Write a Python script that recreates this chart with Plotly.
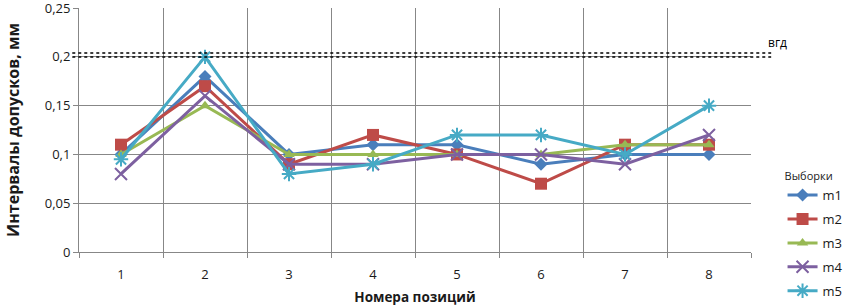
import plotly.graph_objects as go

positions = [1, 2, 3, 4, 5, 6, 7, 8]
m1 = [0.10, 0.18, 0.10, 0.11, 0.11, 0.09, 0.10, 0.10]
m2 = [0.11, 0.17, 0.09, 0.12, 0.10, 0.07, 0.11, 0.11]
m3 = [0.10, 0.15, 0.10, 0.10, 0.10, 0.10, 0.11, 0.11]
m4 = [0.08, 0.16, 0.09, 0.09, 0.10, 0.10, 0.09, 0.12]
m5 = [0.095, 0.20, 0.08, 0.09, 0.12, 0.12, 0.10, 0.15]
series_names = ["m1", "m2", "m3", "m4", "m5"]
vgd = 0.2
vgd_label = "вгд"

series = [m1, m2, m3, m4, m5]
colors = ["#4A7EBB", "#BE4B48", "#98B954", "#7D60A0", "#46AAC5"]
symbols = ["diamond", "square", "triangle-up", "x-thin", "asterisk-open"]
sizes = [10, 12, 10, 12, 12]

fig = go.Figure()
for i, (name, vals) in enumerate(zip(series_names, series)):
    fig.add_trace(go.Scatter(
        x=positions, y=vals, name=name, mode="lines+markers",
        legendgroup=name,
        line=dict(color=colors[i], width=3),
        marker=dict(symbol=symbols[i], size=sizes[i], color=colors[i],
                    line=dict(color=colors[i], width=2 if i >= 3 else 0)),
    ))

fig.add_shape(type="line", xref="paper", yref="y", x0=-0.01, x1=1.03, y0=vgd, y1=vgd,
              line=dict(color="black", width=1.5, dash="dot"))
fig.add_shape(type="line", xref="paper", yref="y", x0=-0.01, x1=1.03, y0=vgd + 0.004, y1=vgd + 0.004,
              line=dict(color="black", width=1.5, dash="dot"))
fig.add_annotation(x=1.022, xref="paper", y=vgd + 0.004, yref="y", text=vgd_label,
                   showarrow=False, xanchor="left", yanchor="bottom",
                   font=dict(size=12, color="black"))

fig.update_layout(
    width=846, height=306,
    margin=dict(l=79, r=95, t=8, b=54, autoexpand=False),
    paper_bgcolor="white", plot_bgcolor="white",
    separators=", ",
    font=dict(family="Open Sans, DejaVu Sans, sans-serif", color="#1a1a1a"),
    showlegend=True,
    legend=dict(title=dict(text="Выборки", font=dict(size=11)),
                xref="container", yref="container",
                x=0.925, xanchor="left", y=0.458, yanchor="top",
                font=dict(size=13), tracegroupgap=4, itemwidth=30),
    xaxis=dict(range=[0.5, 8.5], tickvals=positions, ticktext=[str(p) for p in positions],
               showgrid=False, ticks="outside", ticklen=10, tickcolor="rgba(0,0,0,0)",
               showline=True, linecolor="#878787", linewidth=1,
               tickfont=dict(size=13), automargin=False,
               minor=dict(tick0=0.5, dtick=1, showgrid=True, gridcolor="#878787", gridwidth=1,
                          ticks="outside", ticklen=5, tickcolor="#878787"),
               title=dict(text="<b>Номера позиций</b>", font=dict(size=13.5), standoff=22),
               zeroline=False),
    yaxis=dict(range=[0, 0.2501], tickvals=[0, 0.05, 0.1, 0.15, 0.2, 0.25],
               showgrid=True, gridcolor="#878787", gridwidth=1,
               showline=True, linecolor="#878787", linewidth=1, ticks="outside", ticklen=5,
               tickcolor="#878787", tickfont=dict(size=13), zeroline=False, automargin=False,
               ticklabeloverflow="allow",
               title=dict(text="<b>Интервалы допусков, мм</b>", font=dict(size=16), standoff=21)),
)

fig.write_html("out.html", config={"displayModeBar": False},
               post_script="document.body.style.margin='0';")
